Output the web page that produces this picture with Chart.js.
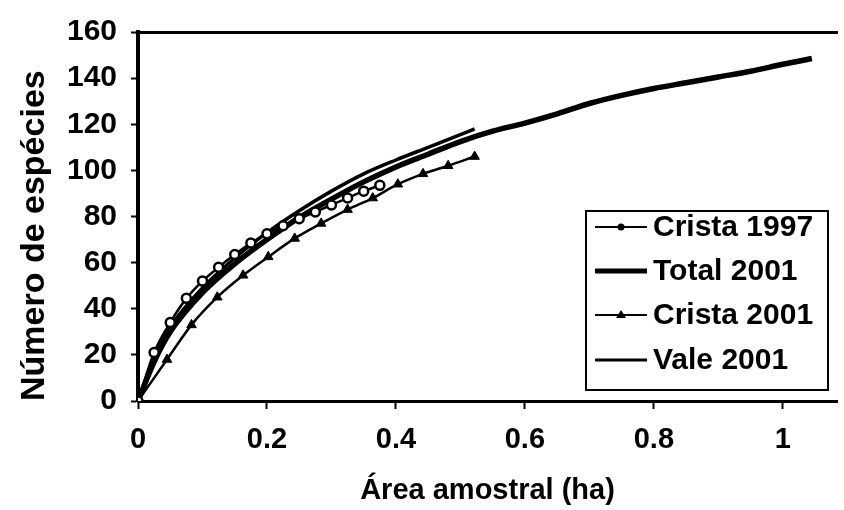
<!DOCTYPE html>
<html>
<head>
<meta charset="utf-8">
<script src="https://cdn.jsdelivr.net/npm/chart.js@4.4.1/dist/chart.umd.min.js"></script>
<style>
  html, body { margin: 0; padding: 0; background: #fff; }
  canvas { display: block; }
</style>
</head>
<body>
<canvas id="myChart" width="844" height="510"></canvas>
<script>
"use strict";

//Series (x = area in ha, y = number of species).
var crista1997X = [0, 0.025, 0.05, 0.075, 0.1, 0.125, 0.15, 0.175, 0.2, 0.225, 0.25, 0.275, 0.3, 0.325, 0.35, 0.375];
var crista1997Y = [0, 21, 34, 44.5, 52, 58, 63.5, 68.5, 72.5, 76, 79, 82, 85, 88, 91, 93.5];

var total2001X = [0, 0.025, 0.05, 0.1, 0.15, 0.2, 0.25, 0.3, 0.35, 0.4, 0.45, 0.5, 0.55, 0.6, 0.65, 0.7, 0.75, 0.8, 0.85, 0.9, 0.95, 1.0, 1.045];
var total2001Y = [0, 17, 30, 47, 59.5, 70, 79.5, 87.5, 95, 101.5, 107, 112.5, 117, 120.5, 124.5, 129, 132.5, 135.5, 138, 140.5, 143, 146, 148.5];

var crista2001X = [0, 0.045, 0.083, 0.123, 0.163, 0.202, 0.243, 0.284, 0.325, 0.364, 0.403, 0.442, 0.481, 0.522];
var crista2001Y = [0, 18, 33, 45, 54.5, 62.5, 70.5, 77, 83, 88, 94, 98.5, 102, 106];

var vale2001X = [0, 0.025, 0.05, 0.1, 0.15, 0.2, 0.25, 0.3, 0.35, 0.4, 0.45, 0.5, 0.522];
var vale2001Y = [0, 19, 32, 49, 62, 73, 82.5, 91, 98.5, 104.5, 110, 115.5, 118];

var seriesNames = ["Crista 1997", "Total 2001", "Crista 2001", "Vale 2001"];
var xTickValues = [0, 0.2, 0.4, 0.6, 0.8, 1];

var fontFamily = "'Liberation Sans', Arial, Helvetica, sans-serif";

function toPoints(xs, ys) {
    var pts = [];
    for (var i = 0; i < xs.length; i++) {
        pts.push({ x: xs[i], y: ys[i] });
    }
    return pts;
}

//Legend drawn inside the plot, like the original.
var legendLineWidths = [2, 5, 2, 3];
var boxLegend = {
    id: 'boxLegend',
    afterDraw: function (chart) {
        var ctx = chart.ctx;
        var left = 586, top = 211, right = 828, bottom = 390;
        ctx.save();
        ctx.fillStyle = '#fff';
        ctx.fillRect(left, top, right - left, bottom - top);
        ctx.strokeStyle = '#000';
        ctx.lineWidth = 2;
        ctx.strokeRect(left, top, right - left, bottom - top);
        var rows = [227, 271, 315, 360];
        chart.data.datasets.forEach(function (ds, i) {
            var y = rows[i];
            ctx.strokeStyle = '#000';
            ctx.lineWidth = legendLineWidths[i];
            ctx.beginPath();
            ctx.moveTo(595, y);
            ctx.lineTo(647, y);
            ctx.stroke();
            if (ds.pointStyle === 'circle') {
                ctx.fillStyle = '#000';
                ctx.beginPath();
                ctx.arc(621, y, 3.5, 0, Math.PI * 2);
                ctx.fill();
            } else if (ds.pointStyle === 'triangle') {
                ctx.fillStyle = '#000';
                ctx.beginPath();
                ctx.moveTo(621, y - 5);
                ctx.lineTo(626, y + 3);
                ctx.lineTo(616, y + 3);
                ctx.closePath();
                ctx.fill();
            }
            ctx.fillStyle = '#000';
            ctx.font = 'bold 30px ' + fontFamily;
            ctx.textAlign = 'left';
            ctx.textBaseline = 'middle';
            ctx.fillText(ds.label, 653, y + 1);
        });
        ctx.restore();
    }
};

var ctx = document.getElementById('myChart').getContext('2d');
var myChart = new Chart(ctx, {
    type: 'line',
    data: {
        datasets: [{
            label: seriesNames[0],
            data: toPoints(crista1997X, crista1997Y),
            borderColor: '#000',
            borderWidth: 2.5,
            pointStyle: 'circle',
            pointRadius: 4.5,
            pointBackgroundColor: '#fff',
            pointBorderColor: '#000',
            pointBorderWidth: 2.5
        }, {
            label: seriesNames[1],
            data: toPoints(total2001X, total2001Y),
            borderColor: '#000',
            borderWidth: 5.5,
            pointRadius: 0
        }, {
            label: seriesNames[2],
            data: toPoints(crista2001X, crista2001Y),
            borderColor: '#000',
            borderWidth: 2.5,
            pointStyle: 'triangle',
            pointRadius: 5.5,
            pointBackgroundColor: '#000',
            pointBorderColor: '#000',
            pointBorderWidth: 1
        }, {
            label: seriesNames[3],
            data: toPoints(vale2001X, vale2001Y),
            borderColor: '#000',
            borderWidth: 3.5,
            pointRadius: 0
        }]
    },
    options: {
        responsive: false,
        animation: false,
        cubicInterpolationMode: 'monotone',
        layout: { padding: 0 },
        plugins: {
            legend: { display: false },
            tooltip: { enabled: false }
        },
        scales: {
            x: {
                type: 'linear',
                position: 'bottom',
                min: 0,
                max: 1.084,
                afterFit: function (s) { s.height = 109; },
                afterBuildTicks: function (s) {
                    s.ticks = xTickValues.map(function (v) { return { value: v }; });
                },
                ticks: {
                    color: '#000',
                    padding: 14,
                    maxRotation: 0,
                    autoSkip: false,
                    font: { family: fontFamily, size: 29, weight: 'bold' },
                    callback: function (v) { return String(+v.toFixed(1)); }
                },
                grid: { drawOnChartArea: false, tickLength: 8, tickWidth: 2, tickColor: '#000' },
                border: { display: true, width: 3, color: '#000' },
                title: {
                    display: true,
                    text: 'Área amostral (ha)',
                    color: '#000',
                    font: { family: fontFamily, size: 29, weight: 'bold' },
                    padding: { top: 0, bottom: 2 }
                }
            },
            xTop: {
                type: 'linear',
                position: 'top',
                min: 0,
                max: 1.084,
                afterFit: function (s) { s.height = 32; },
                ticks: { display: false },
                grid: { display: false },
                border: { display: true, width: 3, color: '#000' }
            },
            y: {
                min: 0,
                max: 160,
                afterFit: function (s) { s.width = 138; },
                ticks: {
                    stepSize: 20,
                    color: '#000',
                    padding: 14,
                    font: { family: fontFamily, size: 30, weight: 'bold' }
                },
                grid: { drawOnChartArea: false, tickLength: 7, tickWidth: 2, tickColor: '#000' },
                border: { display: true, width: 4, color: '#000' },
                title: {
                    display: true,
                    text: 'Número de espécies',
                    align: 'start',
                    color: '#000',
                    font: { family: fontFamily, size: 34, weight: 'bold' },
                    padding: { top: 14, bottom: 0 }
                }
            }
        }
    },
    plugins: [boxLegend]
});
</script>
</body>
</html>
